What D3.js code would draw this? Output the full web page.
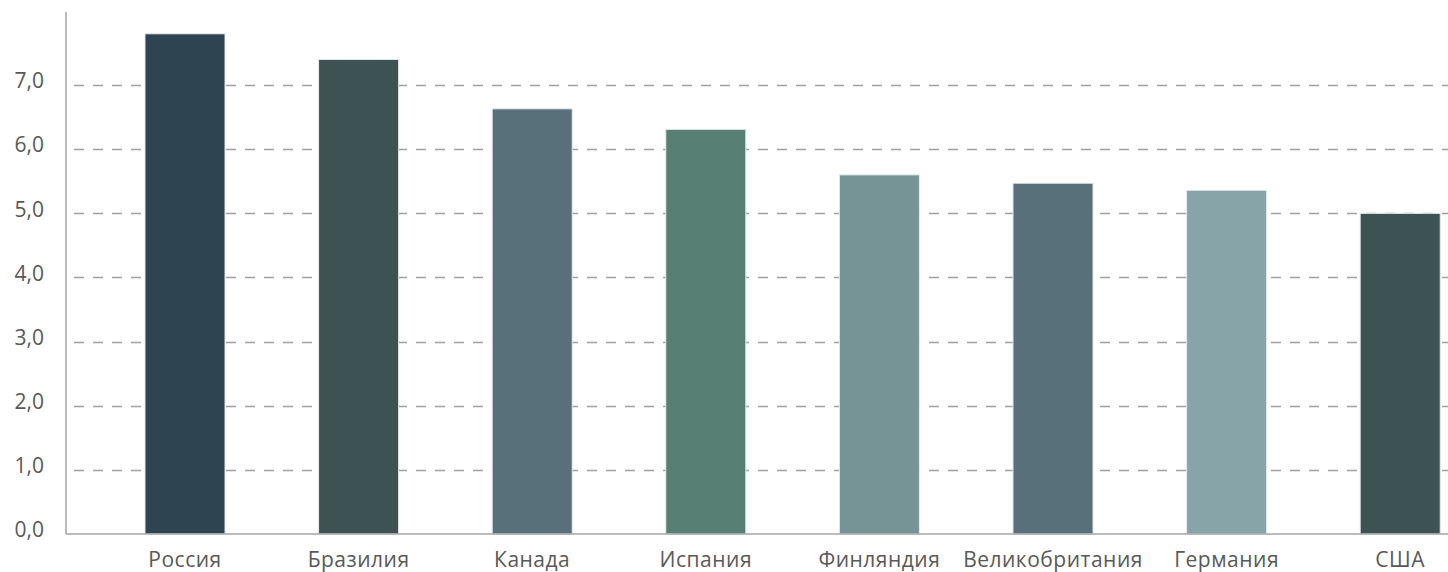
<!DOCTYPE html>
<html>
<head>
<meta charset="utf-8">
<script src="https://cdn.jsdelivr.net/npm/d3@7"></script>
<style>
  html, body { margin: 0; padding: 0; background: #fff; }
  svg { display: block; }
  text { font-family: "Open Sans", "Noto Sans", sans-serif; fill: #595959; }
</style>
</head>
<body>
<svg id="chart" width="1448" height="572"></svg>
<script>
// Countries and their values
const countries = ["Россия", "Бразилия", "Канада", "Испания", "Финляндия", "Великобритания", "Германия", "США"];
const values = [7.8, 7.4, 6.63, 6.31, 5.6, 5.47, 5.36, 5.0];
const barColors = ["#2e4451", "#3d5253", "#58707a", "#587f73", "#769496", "#58707a", "#87a5a8", "#3d5253"];
const yTicks = [0, 1, 2, 3, 4, 5, 6, 7];

const width = 1448, height = 572;
const svg = d3.select("#chart");

const axisX = 66;
const y = d3.scaleLinear().domain([0, 8.14]).range([534, 12]);
const x = d3.scaleBand()
  .domain(countries)
  .range([98.2, 98.2 + 8 * 173.6])
  .paddingInner(0.539)
  .paddingOuter(0.2695);

const fmt = v => d3.format(".1f")(v).replace(".", ",");

// dashed gridlines
svg.append("g")
  .selectAll("line")
  .data(yTicks.filter(d => d > 0))
  .join("line")
  .attr("x1", axisX + 8)
  .attr("x2", width)
  .attr("y1", d => Math.round(y(d)) + 0.5)
  .attr("y2", d => Math.round(y(d)) + 0.5)
  .attr("stroke", "#a0a0a0")
  .attr("stroke-width", 1.6)
  .attr("stroke-dasharray", "10,9");

// bars
svg.append("g")
  .selectAll("rect")
  .data(countries)
  .join("rect")
  .attr("x", d => x(d))
  .attr("width", x.bandwidth())
  .attr("y", (d, i) => y(values[i]))
  .attr("height", (d, i) => y(0) - y(values[i]))
  .attr("fill", (d, i) => barColors[i])
  .attr("stroke", "#e6e9ea")
  .attr("stroke-width", 1);

// y axis line and baseline
svg.append("line")
  .attr("x1", axisX).attr("x2", axisX)
  .attr("y1", 12).attr("y2", y(0))
  .attr("stroke", "#a6a6a6").attr("stroke-width", 1.5);
svg.append("line")
  .attr("x1", axisX).attr("x2", width)
  .attr("y1", y(0)).attr("y2", y(0))
  .attr("stroke", "#a6a6a6").attr("stroke-width", 1.5);

// y tick labels
svg.append("g")
  .selectAll("text")
  .data(yTicks)
  .join("text")
  .attr("x", 44)
  .attr("y", d => y(d))
  .attr("dy", "0.15em")
  .attr("text-anchor", "end")
  .style("font-size", "21px")
  .text(fmt);

// x category labels
svg.append("g")
  .selectAll("text")
  .data(countries)
  .join("text")
  .attr("x", d => x(d) + x.bandwidth() / 2)
  .attr("y", 566.5)
  .attr("text-anchor", "middle")
  .style("font-size", "21px")
  .style("letter-spacing", "0.5px")
  .text(d => d);
</script>
</body>
</html>
